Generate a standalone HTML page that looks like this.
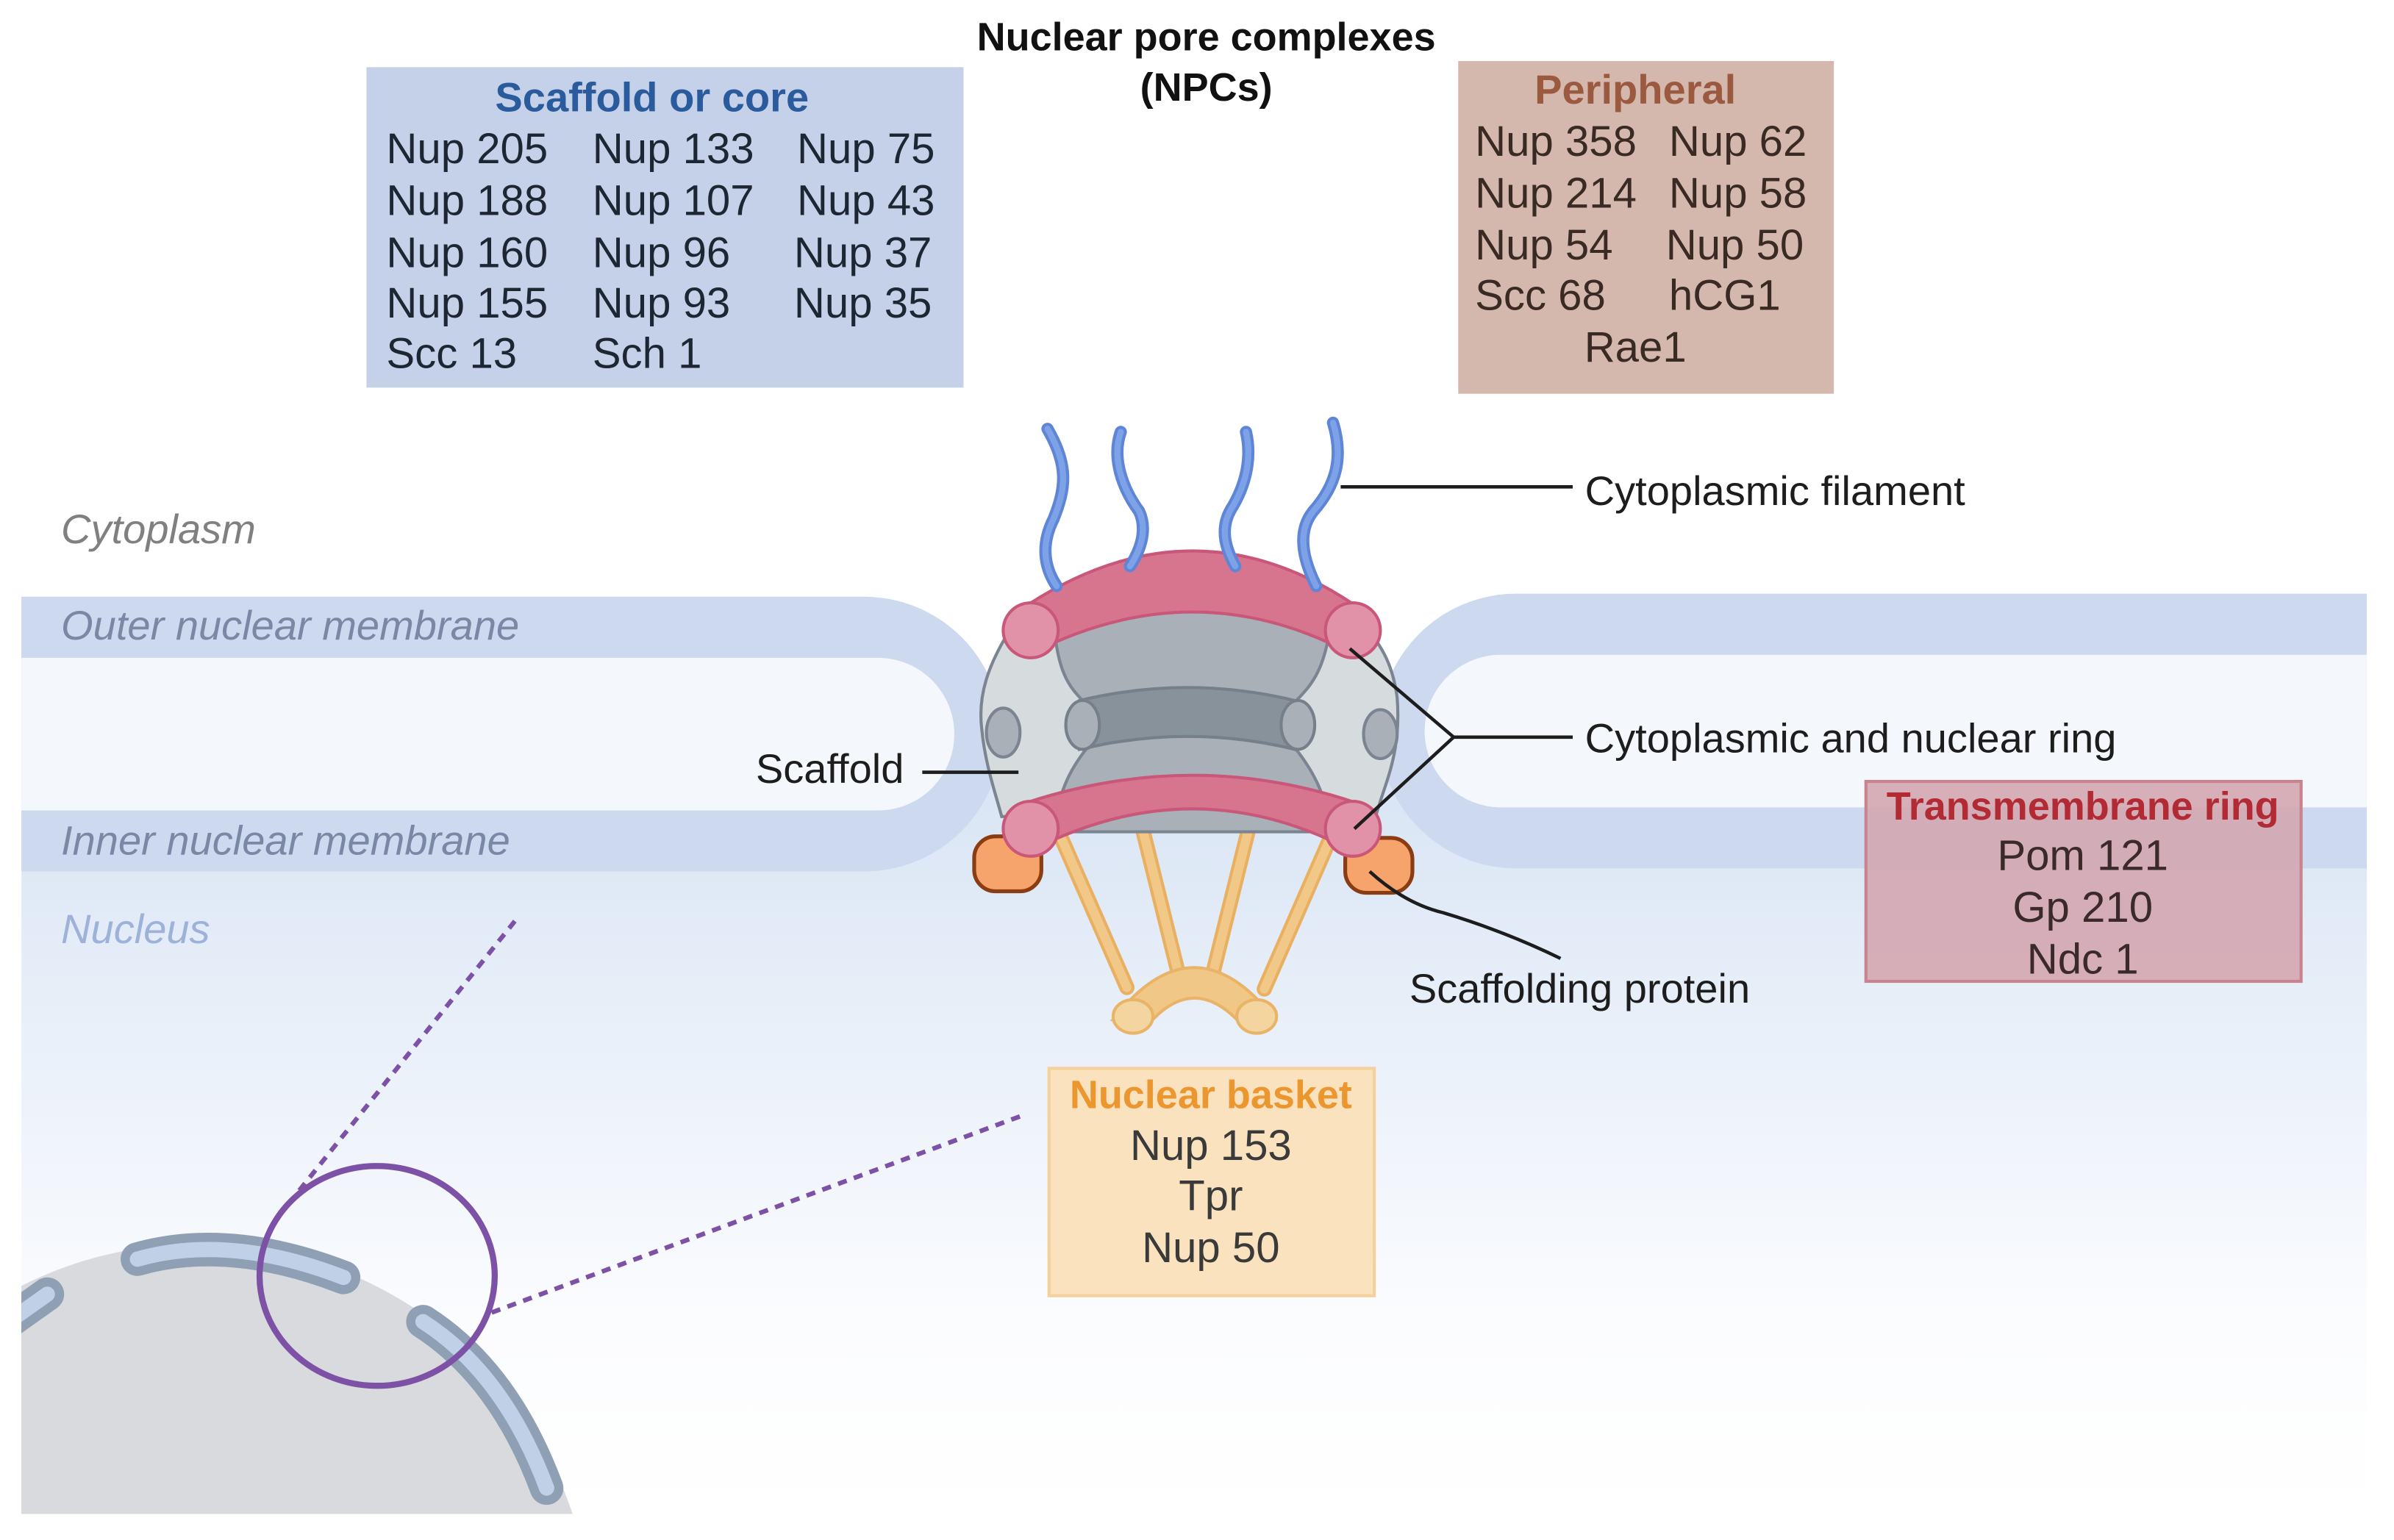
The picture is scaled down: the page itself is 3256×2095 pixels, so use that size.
<!DOCTYPE html>
<html><head><meta charset="utf-8"><style>
html,body{margin:0;padding:0;background:#fff;width:3256px;height:2095px;overflow:hidden;}
svg{display:block;}
text{font-family:"Liberation Sans",sans-serif;}
</style></head><body>
<svg width="3256" height="2095" viewBox="0 0 1560 1004" preserveAspectRatio="none" xmlns="http://www.w3.org/2000/svg">
<defs>
<linearGradient id="nuc" x1="0" y1="0" x2="0" y2="1">
<stop offset="0" stop-color="#d6e3f4"/>
<stop offset="0.75" stop-color="#fbfcfe"/>
<stop offset="1" stop-color="#ffffff"/>
</linearGradient>
<clipPath id="cl"><rect x="14" y="0" width="1536" height="992"/></clipPath>
</defs>
<rect width="1560" height="1004" fill="#fff"/>
<g transform="scale(0.995)">
<g clip-path="url(#cl)">
<rect x="14" y="480" width="1536" height="512" fill="url(#nuc)"/>
<rect x="-200" y="391" width="856" height="180" rx="90" fill="#cdd9ee"/>
<rect x="-200" y="431" width="825" height="100" rx="50" fill="#f4f7fc"/>
<rect x="903" y="389" width="900" height="180" rx="90" fill="#cdd9ee"/>
<rect x="933" y="429" width="900" height="100" rx="50" fill="#f4f7fc"/>
<circle cx="130" cy="1073" r="258" fill="#d9dadd"/>
<g fill="none" stroke-linecap="round">
<path d="M90,825 Q150,808 225,837" stroke="#8fa0b5" stroke-width="22"/>
<path d="M90,825 Q150,808 225,837" stroke="#c0d0e7" stroke-width="10"/>
<path d="M277,866 Q330,900 358,975" stroke="#8fa0b5" stroke-width="22"/>
<path d="M277,866 Q330,900 358,975" stroke="#c0d0e7" stroke-width="10"/>
<path d="M0,870 L31,848" stroke="#8fa0b5" stroke-width="22"/>
<path d="M0,870 L31,848" stroke="#c0d0e7" stroke-width="10"/>
</g>
<ellipse cx="247" cy="836" rx="77" ry="72" fill="none" stroke="#7d52a6" stroke-width="4"/>
<line x1="196" y1="780" x2="340" y2="600" stroke="#7d52a6" stroke-width="3" stroke-dasharray="6,5"/>
<line x1="322" y1="860" x2="672" y2="730" stroke="#7d52a6" stroke-width="3" stroke-dasharray="6,5"/>
</g>
<g font-style="italic" font-size="27">
<text x="40" y="356" fill="#808080">Cytoplasm</text>
<text x="40" y="419" fill="#7a88a6">Outer nuclear membrane</text>
<text x="40" y="560" fill="#7a88a6">Inner nuclear membrane</text>
<text x="40" y="618" fill="#9db1d9">Nucleus</text>
</g>
<g stroke-linecap="round">
<line x1="695" y1="549" x2="738" y2="647" stroke="#e8b060" stroke-width="10"/>
<line x1="695" y1="549" x2="738" y2="647" stroke="#f1c888" stroke-width="6"/>
<line x1="746" y1="534" x2="771" y2="635" stroke="#e8b060" stroke-width="10"/>
<line x1="746" y1="534" x2="771" y2="635" stroke="#f1c888" stroke-width="6"/>
<line x1="820" y1="534" x2="795" y2="635" stroke="#e8b060" stroke-width="10"/>
<line x1="820" y1="534" x2="795" y2="635" stroke="#f1c888" stroke-width="6"/>
<line x1="870" y1="552" x2="828" y2="648" stroke="#e8b060" stroke-width="10"/>
<line x1="870" y1="552" x2="828" y2="648" stroke="#f1c888" stroke-width="6"/>
</g>
<path d="M729,668 Q782,600 835,668 L810,668 Q782,640 755,668 Z" fill="#f0c786" stroke="#e9b468" stroke-width="2"/>
<ellipse cx="742" cy="666" rx="13" ry="11" fill="#f4d59f" stroke="#e9b468" stroke-width="2"/>
<ellipse cx="823" cy="666" rx="13" ry="11" fill="#f4d59f" stroke="#e9b468" stroke-width="2"/>
<rect x="638" y="548" width="44" height="36" rx="14" fill="#f7a36c" stroke="#8a3c12" stroke-width="2.5"/>
<rect x="881" y="549" width="44" height="36" rx="14" fill="#f7a36c" stroke="#8a3c12" stroke-width="2.5"/>
<path d="M660,415 C648,435 640,455 643,478 C645,500 652,520 656,535 L901,535 C906,515 918,495 915,457 C912,435 905,425 898,415 Q782,365 660,415 Z" fill="#d6dbde" stroke="#7a8591" stroke-width="2"/>
<ellipse cx="657" cy="480" rx="11" ry="16" fill="#a9b0b7" stroke="#7a8591" stroke-width="2"/>
<ellipse cx="904" cy="481" rx="11" ry="16" fill="#a9b0b7" stroke="#7a8591" stroke-width="2"/>
<path d="M690,405 C692,440 700,450 710,460 Q778,445 848,460 C860,448 868,438 872,405 Q782,370 690,405 Z" fill="#a9b0b7" stroke="#7a8591" stroke-width="2"/>
<path d="M712,490 C700,505 693,520 690,545 L872,545 C868,520 860,505 848,490 Q778,474 712,490 Z" fill="#a9b0b7" stroke="#7a8591" stroke-width="2"/>
<path d="M707,459 Q778,442 848,459 L848,491 Q778,474 707,491 Z" fill="#87929b" stroke="#75808b" stroke-width="2"/>
<ellipse cx="709" cy="475" rx="11" ry="16" fill="#a9b0b7" stroke="#75808b" stroke-width="2"/>
<ellipse cx="850" cy="475" rx="11" ry="16" fill="#a9b0b7" stroke="#75808b" stroke-width="2"/>
<path d="M672,397 Q782,325 888,397 L888,430 Q782,372 672,430 Z" fill="#d7758f" stroke="#c9577a" stroke-width="2"/>
<circle cx="675" cy="413" r="18" fill="#e191a8" stroke="#c9577a" stroke-width="2"/>
<circle cx="886" cy="413" r="18" fill="#e191a8" stroke="#c9577a" stroke-width="2"/>
<path d="M672,526 Q782,490 888,526 L888,559 Q782,501 672,559 Z" fill="#d7758f" stroke="#c9577a" stroke-width="2"/>
<circle cx="675" cy="543" r="18" fill="#e191a8" stroke="#c9577a" stroke-width="2"/>
<circle cx="886" cy="543" r="18" fill="#e191a8" stroke="#c9577a" stroke-width="2"/>
<g fill="none" stroke-linecap="round">
<g stroke="#5f86d6" stroke-width="8">
<path d="M686,281 C700,305 698,320 690,340 C680,360 686,375 692,384"/>
<path d="M734,283 C728,300 735,320 746,335 C752,348 746,362 740,371"/>
<path d="M816,283 C820,300 816,318 806,334 C798,348 804,362 809,371"/>
<path d="M873,277 C880,300 875,318 860,335 C848,350 855,370 862,384"/>
</g>
<g stroke="#7ea2e8" stroke-width="4">
<path d="M686,281 C700,305 698,320 690,340 C680,360 686,375 692,384"/>
<path d="M734,283 C728,300 735,320 746,335 C752,348 746,362 740,371"/>
<path d="M816,283 C820,300 816,318 806,334 C798,348 804,362 809,371"/>
<path d="M873,277 C880,300 875,318 860,335 C848,350 855,370 862,384"/>
</g>
</g>
<g stroke="#1d1d1d" stroke-width="2.2" fill="none">
<line x1="878" y1="319" x2="1030" y2="319"/>
<polyline points="884,425 952,483 887,543"/>
<line x1="952" y1="483" x2="1030" y2="483"/>
<line x1="604" y1="506" x2="667" y2="506"/>
<path d="M897,571 Q920,592 945,598 Q985,610 1022,628"/>
</g>
<g font-size="27" fill="#1d1d1d">
<text x="1038" y="331">Cytoplasmic filament</text>
<text x="1038" y="493">Cytoplasmic and nuclear ring</text>
<text x="592" y="513" text-anchor="end">Scaffold</text>
<text x="923" y="657">Scaffolding protein</text>
</g>
<g font-size="26" font-weight="bold" fill="#111" text-anchor="middle">
<text x="790" y="33">Nuclear pore complexes</text>
<text x="790" y="66">(NPCs)</text>
</g>
<rect x="240" y="44" width="391" height="210" fill="#c5d1e8"/>
<text x="427" y="73" font-size="27" font-weight="bold" fill="#2a5b9c" text-anchor="middle">Scaffold or core</text>
<g font-size="28" fill="#1d2633">
<text x="253" y="107">Nup 205</text><text x="388" y="107">Nup 133</text><text x="522" y="107">Nup 75</text>
<text x="253" y="141">Nup 188</text><text x="388" y="141">Nup 107</text><text x="522" y="141">Nup 43</text>
<text x="253" y="175">Nup 160</text><text x="388" y="175">Nup 96</text><text x="520" y="175">Nup 37</text>
<text x="253" y="208">Nup 155</text><text x="388" y="208">Nup 93</text><text x="520" y="208">Nup 35</text>
<text x="253" y="241">Scc 13</text><text x="388" y="241">Sch 1</text>
</g>
<rect x="955" y="40" width="246" height="218" fill="#d4b8ae"/>
<text x="1071" y="68" font-size="27" font-weight="bold" fill="#9b5a3f" text-anchor="middle">Peripheral</text>
<g font-size="28" fill="#3a2a24">
<text x="966" y="102">Nup 358</text><text x="1093" y="102">Nup 62</text>
<text x="966" y="136">Nup 214</text><text x="1093" y="136">Nup 58</text>
<text x="966" y="170">Nup 54</text><text x="1091" y="170">Nup 50</text>
<text x="966" y="203">Scc 68</text><text x="1093" y="203">hCG1</text>
<text x="1071" y="237" text-anchor="middle">Rae1</text>
</g>
<rect x="1222" y="512" width="285" height="131" fill="#d3a6b0" fill-opacity="0.9" stroke="#c9838f" stroke-width="2"/>
<g text-anchor="middle">
<text x="1364" y="537" font-size="26" font-weight="bold" fill="#b22a33">Transmembrane ring</text>
<g font-size="28" fill="#3a2a2a">
<text x="1364" y="570">Pom 121</text>
<text x="1364" y="604">Gp 210</text>
<text x="1364" y="638">Ndc 1</text>
</g>
</g>
<rect x="687" y="700" width="213" height="149" fill="#f9e2bd" stroke="#f6d09b" stroke-width="2"/>
<g text-anchor="middle">
<text x="793" y="726" font-size="26" font-weight="bold" fill="#ec9630">Nuclear basket</text>
<g font-size="28" fill="#3a3a3a">
<text x="793" y="760">Nup 153</text>
<text x="793" y="793">Tpr</text>
<text x="793" y="827">Nup 50</text>
</g>
</g>
</g>
</svg>
</body></html>
